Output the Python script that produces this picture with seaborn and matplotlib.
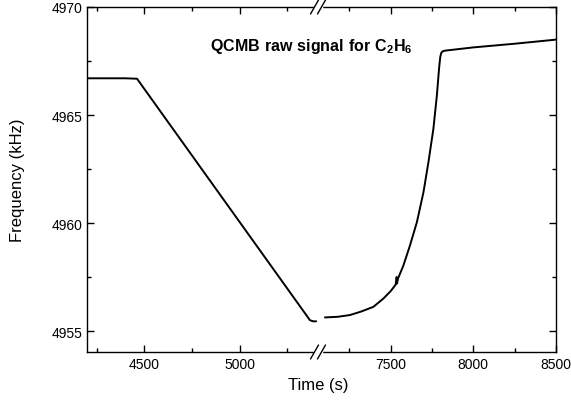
import matplotlib
matplotlib.use('Agg')
import matplotlib.pyplot as plt
import seaborn as sns
import pandas as pd

# left segment (before the break)
t_left = [4200, 4300, 4400, 4462, 5368, 5385, 5400]
f_left = [4966.7, 4966.7, 4966.7, 4966.68, 4955.5, 4955.45, 4955.45]

# right segment (after the break)
t_right = [7102, 7180, 7253, 7320, 7395, 7455, 7500, 7530, 7536, 7538, 7545, 7576, 7616, 7658,
           7698, 7728, 7758, 7779, 7793, 7800, 7806, 7815, 7829, 8000, 8250, 8500]
f_right = [4955.63, 4955.66, 4955.74, 4955.9, 4956.12, 4956.5, 4956.85, 4957.15, 4957.5, 4957.2,
           4957.45, 4958.02, 4958.95, 4960.03, 4961.42, 4962.81, 4964.35, 4965.89, 4967.2,
           4967.7, 4967.88, 4967.95, 4967.98, 4968.13, 4968.3, 4968.49]

sns.set_style('ticks')
plt.rcParams['font.family'] = ['Liberation Sans', 'DejaVu Sans']
plt.rcParams['mathtext.fontset'] = 'custom'
plt.rcParams['mathtext.bf'] = 'Liberation Sans:bold'
plt.rcParams['mathtext.rm'] = 'Liberation Sans'
plt.rcParams['text.color'] = 'black'
plt.rcParams['axes.edgecolor'] = 'black'
plt.rcParams['xtick.color'] = 'black'
plt.rcParams['ytick.color'] = 'black'

fig = plt.figure(figsize=(5.71, 4.10), dpi=100)
W, H = 571, 410
x0, xb, x1 = 87, 318, 556
y0, y1 = 353, 8
ax1 = fig.add_axes([x0 / W, 1 - y0 / H, (xb - x0) / W, (y0 - y1) / H])
ax2 = fig.add_axes([xb / W, 1 - y0 / H, (x1 - xb) / W, (y0 - y1) / H])

df_l = pd.DataFrame({'t': t_left, 'f': f_left})
df_r = pd.DataFrame({'t': t_right, 'f': f_right})
sns.lineplot(data=df_l, x='t', y='f', ax=ax1, color='black', lw=1.4, sort=False)
sns.lineplot(data=df_r, x='t', y='f', ax=ax2, color='black', lw=1.4, sort=False)

ax1.set_xlim(4200, 5410)
ax2.set_xlim(7060, 8500)
for ax in (ax1, ax2):
    ax.set_ylim(4954.03, 4970)
    ax.set_xlabel('')
    ax.set_ylabel('')
    for s in ax.spines.values():
        s.set_linewidth(1.0)
    ax.tick_params(which='both', direction='in', top=True, right=True, labelsize=10)
    ax.tick_params(which='major', length=5, width=1)
    ax.tick_params(which='minor', length=3, width=1)

ax1.set_xticks([4500, 5000])
ax1.set_xticks([4250, 4750, 5250], minor=True)
ax2.set_xticks([7500, 8000, 8500])
ax2.set_xticks([7250, 7750, 8250], minor=True)
ax1.set_yticks([4955, 4960, 4965, 4970])
ax1.set_yticks([4957.5, 4962.5, 4967.5], minor=True)
ax2.set_yticks([4955, 4960, 4965, 4970])
ax2.set_yticks([4957.5, 4962.5, 4967.5], minor=True)
ax1.spines['right'].set_visible(False)
ax2.spines['left'].set_visible(False)
ax1.tick_params(which='both', right=False)
ax2.tick_params(which='both', left=False, labelleft=False)

# break marks
for yy in (y0, y1):
    fy = 1 - yy / H
    fig.patches.append(plt.Rectangle(((xb - 4) / W, fy - 2 / H), 8 / W, 4 / H,
                                     transform=fig.transFigure, color='white', zorder=5))
    for dx in (-3.5, 3.5):
        fig.lines.append(plt.Line2D([(xb + dx - 4) / W, (xb + dx + 4) / W],
                                    [fy - 7 / H, fy + 7 / H], transform=fig.transFigure,
                                    color='black', lw=1.0, zorder=6))

fig.text(311 / W, 1 - 47 / H, r'$\mathbf{QCMB\ raw\ signal\ for\ C_2H_6}$',
         ha='center', va='center', fontsize=11.5)
fig.text(xb / W, 1 - 386 / H, 'Time (s)', ha='center', va='center', fontsize=12)
fig.text(18 / W, 1 - 180 / H, 'Frequency (kHz)', ha='center', va='center',
         rotation=90, fontsize=12)

fig.savefig('out.png', dpi=100)
